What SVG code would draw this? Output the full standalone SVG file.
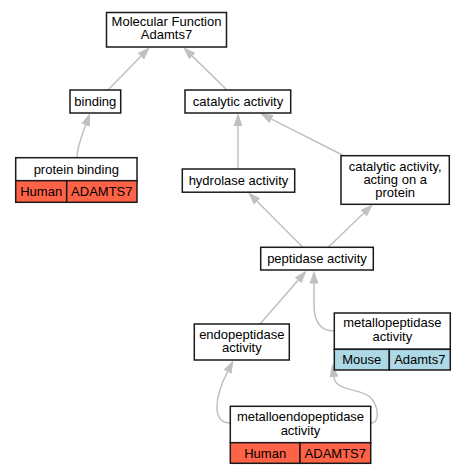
<svg xmlns="http://www.w3.org/2000/svg" width="465" height="475" viewBox="0 0 465 475">
<style>
.box{fill:#fff;stroke:#1a1a1a;stroke-width:1.5}
.hu{fill:#ff6347;stroke:#1a1a1a;stroke-width:1.5}
.mo{fill:#add8e6;stroke:#1a1a1a;stroke-width:1.5}
.e{fill:none;stroke:#c0c0c0;stroke-width:1.5;marker-end:url(#ah)}
text{font-family:"Liberation Sans",Arial,sans-serif;font-size:13px;fill:#000;text-anchor:middle}
</style>
<defs>
<marker id="ah" markerUnits="userSpaceOnUse" markerWidth="13" markerHeight="10" viewBox="0 0 13 10" refX="0" refY="5" orient="auto">
<path d="M0,0.5 L13,5 L0,9.5 z" fill="#c0c0c0"/>
</marker>
</defs>
<g id="edges">
<path class="e" d="M108,90 L140.9,56.3"/>
<path class="e" d="M227,90 L192.3,56.1"/>
<path class="e" d="M77,157.5 C77,147 82.9,132.7 85.6,125.2"/>
<path class="e" d="M238,169 L238,126"/>
<path class="e" d="M343.3,155.5 L271.6,119.2"/>
<path class="e" d="M303,247.5 L257.2,201.5"/>
<path class="e" d="M328,247.5 L363.6,213.3"/>
<path class="e" d="M260,324 L298.1,280.3"/>
<path class="e" d="M334.3,331 C321,331 314,322 314,305 L314,283.5"/>
<path class="e" d="M230.3,423 C212,423 214,398 227.5,371.9"/>
<path class="e" d="M370.7,423 C381,423 378,405 370,397 C360,388 336,392 334,377"/>
</g>
<g id="mf">
<rect class="box" x="106.5" y="12.5" width="120" height="34.5"/>
<text x="166.5" y="26.3">Molecular Function</text>
<text x="166.5" y="39.3">Adamts7</text>
</g>
<g id="binding">
<rect class="box" x="70" y="90" width="50.7" height="23"/>
<text x="95.3" y="106">binding</text>
</g>
<g id="catalytic">
<rect class="box" x="185" y="90" width="105.7" height="23"/>
<text x="238" y="106">catalytic activity</text>
</g>
<g id="protein_binding">
<rect class="box" x="15.7" y="157.7" width="121.3" height="23"/>
<rect class="hu" x="15.7" y="180.7" width="51" height="21.6"/>
<rect class="hu" x="66.7" y="180.7" width="70.3" height="21.6"/>
<text x="76.3" y="173.7">protein binding</text>
<text x="41.2" y="196">Human</text>
<text x="101.8" y="196">ADAMTS7</text>
</g>
<g id="hydrolase">
<rect class="box" x="182.3" y="169" width="112.4" height="23.2"/>
<text x="238.5" y="185">hydrolase activity</text>
</g>
<g id="cat_protein">
<rect class="box" x="341" y="155.7" width="108.3" height="48.6"/>
<text x="395.2" y="171.3">catalytic activity,</text>
<text x="395.2" y="184.3">acting on a</text>
<text x="395.2" y="197.3">protein</text>
</g>
<g id="peptidase">
<rect class="box" x="260.7" y="247.3" width="112.6" height="22.7"/>
<text x="317" y="263.2">peptidase activity</text>
</g>
<g id="endopeptidase">
<rect class="box" x="194.3" y="324" width="95" height="36"/>
<text x="241.8" y="338.5">endopeptidase</text>
<text x="241.8" y="351.8">activity</text>
</g>
<g id="metallopeptidase">
<rect class="box" x="334.3" y="313" width="116" height="36.3"/>
<rect class="mo" x="334.3" y="349.3" width="55" height="20.7"/>
<rect class="mo" x="389.3" y="349.3" width="61" height="20.7"/>
<text x="392.3" y="327">metallopeptidase</text>
<text x="392.3" y="341">activity</text>
<text x="361.8" y="364.2">Mouse</text>
<text x="419.8" y="364.2">Adamts7</text>
</g>
<g id="metalloendopeptidase">
<rect class="box" x="230.3" y="406.3" width="140.4" height="36.4"/>
<rect class="hu" x="230.3" y="442.7" width="69.7" height="20.6"/>
<rect class="hu" x="300" y="442.7" width="70.7" height="20.6"/>
<text x="300.5" y="421">metalloendopeptidase</text>
<text x="300.5" y="434.5">activity</text>
<text x="265.2" y="457.5">Human</text>
<text x="335.3" y="457.5">ADAMTS7</text>
</g>
</svg>
